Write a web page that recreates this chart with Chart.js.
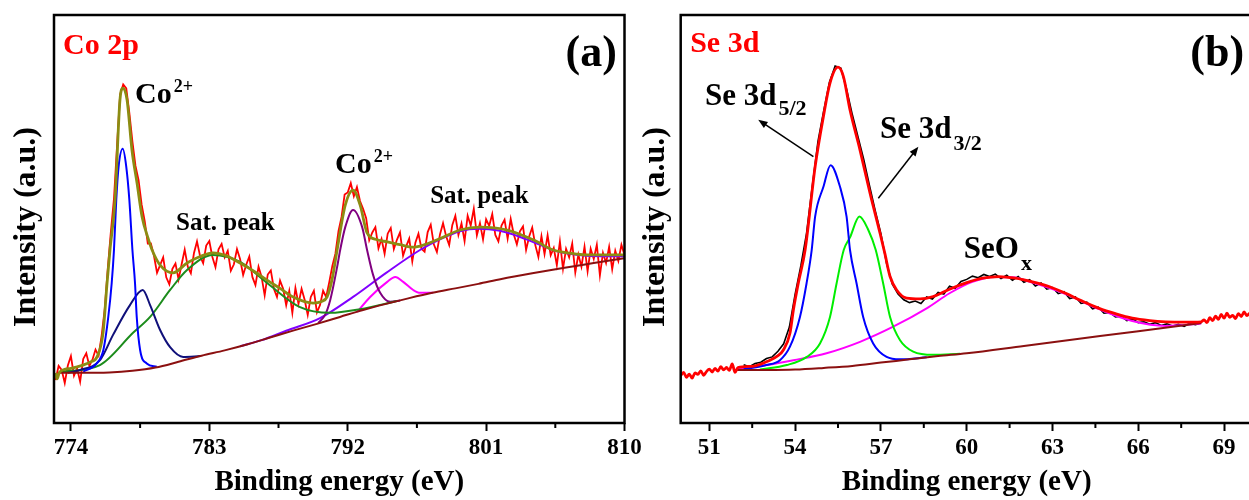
<!DOCTYPE html>
<html>
<head>
<meta charset="utf-8">
<script src="https://cdn.jsdelivr.net/npm/chart.js@4.4.1/dist/chart.umd.min.js"></script>
<style>
  html, body { margin: 0; padding: 0; background: #fff; overflow: hidden; width: 1249px; height: 500px; }
  canvas { position: absolute; top: 0; }
  #co { left: 0; }
  #se { left: 630px; }
</style>
</head>
<body>
<canvas id="co" width="660" height="500"></canvas>
<canvas id="se" width="640" height="500"></canvas>
<script>
const SERIF = '"Liberation Serif", "Times New Roman", serif';

// ---- (a) Co 2p ----
const coTicks = [774, 783, 792, 801, 810];
const coMinor = [778.5, 787.5, 796.5, 805.5];

// raw spectrum, 0.2 eV steps from 773.0 eV
const coRawStart = 773.0;
const coRawStep = 0.2;
const coRaw = [
  10.5, 14, 13, 9.8, 14.1, 16.4, 11.6, 13.4, 10.1, 15.7,
  17.1, 14, 15.5, 18, 16.5, 21.5, 28, 38, 47, 55,
  68, 80.5, 83, 82, 76, 69, 63, 59.5, 53.5, 49.5,
  44, 44, 41, 36.8, 38.7, 40.6, 35.7, 34, 37.8, 39.1,
  35.2, 38.9, 42.5, 38.3, 36.7, 41.6, 44.5, 40.9, 39.2, 43.5,
  44.6, 40.7, 38.2, 42.6, 43.9, 40.6, 42.2, 37.3, 38.9, 42.6,
  40.2, 36.3, 38.8, 40.8, 35.8, 33.8, 38.3, 35.8, 31.3, 36.4,
  37.4, 32.9, 30.9, 34.9, 32.9, 28.9, 32.4, 27.0, 33.1, 29.2,
  32.9, 30.2, 26.5, 30.9, 32.4, 27.1, 28.9, 32.4, 30.9, 34.5,
  38.5, 41.5, 47, 50.5, 56, 56.5, 58.8, 55.6, 57.8, 54.4,
  52.5, 50.2, 44.8, 46.7, 48, 42.8, 45.1, 41.5, 46.4, 47.8,
  42.6, 44.9, 46.7, 41, 43.3, 45.2, 39.6, 44.2, 46.4, 42.7,
  42, 46.8, 48.6, 43.8, 41.9, 46.2, 49, 45.8, 43.6, 48.5,
  50.8, 46.1, 48.9, 44.6, 50.8, 48.4, 52.5, 46, 49, 45,
  49.9, 48.3, 51.2, 46.1, 44.5, 48.4, 49.8, 45.2, 50, 46.2,
  43.8, 47, 48.2, 42.4, 45.7, 47.9, 43.6, 40.7, 45.8, 41.4,
  46, 41.1, 42.9, 38.7, 44.5, 37.8, 42.7, 40.6, 44, 36.9,
  41.3, 38.3, 43.2, 37.2, 42.7, 40.2, 43.7, 36.2, 41.7, 39.2,
  43.2, 37.7, 42.2, 39.7, 43.7, 41.2
];

const coFitE = [773.0, 773.1, 773.25, 774.0, 774.79, 775.3, 775.7, 776.09, 776.35, 776.54,
  776.87, 777.19, 777.39, 777.65, 777.97, 778.3, 778.63, 779.0, 779.3, 779.8,
  780.64, 781.55, 782.4, 783.24, 784.1, 785.0, 785.9, 786.76, 787.6, 788.45,
  789.75, 790.3, 790.66, 791.0, 791.31, 791.84, 792.35, 792.81, 793.26, 793.92,
  794.57, 795.4, 796.26, 797.0, 797.82, 799.31, 800.62, 802.37, 804.06, 805.37,
  806.5, 807.58, 809.73, 810.0];
const coFitI = [12.3, 10.8, 12.4, 13.4, 14.2, 15.0, 16.2, 22.1, 34.3, 42.4,
  54.7, 79.2, 82.1, 79.2, 66.9, 58.8, 50.5, 45.5, 42.2, 38.7,
  36.8, 39.2, 40.8, 41.7, 41.0, 39.2, 37.2, 35.0, 33.0, 30.9,
  29.4, 29.8, 30.9, 35.5, 42.4, 53.4, 57.1, 53.4, 46.6, 44.9,
  44.4, 43.7, 43.1, 43.7, 44.9, 47.3, 48.0, 47.3, 44.9, 42.4,
  41.6, 41.2, 41.2, 41.2];

const coBgE = [773.2, 774.5, 776.5, 778.0, 779.5, 781.0, 782.5, 784.0, 785.5, 787.0, 788.5, 790.0,
  791.5, 793.0, 794.5, 796.0, 797.5, 799.0, 800.5, 802.0, 804.0, 806.0, 808.0, 810.0];
const coBgI = [12.3, 12.3, 12.4, 12.8, 13.6, 15.0, 16.5, 17.8, 19.3, 21.0, 22.7, 24.3,
  26.0, 27.7, 29.2, 30.6, 31.9, 33.0, 34.1, 35.3, 36.7, 38.0, 39.2, 40.4];

// Co2+ 2p3/2 main (blue)
const coMainE = [774.8, 775.68, 776.11, 776.43, 776.65, 776.8, 776.95, 777.1, 777.37, 777.6, 777.8, 778.0, 778.17, 778.28, 778.5, 778.93, 779.58];
const coMainI = [12.6, 14.6, 17.9, 26.0, 34.2, 42.4, 54.7, 62.8, 67.2, 62.8, 54.7, 42.4, 34.2, 26.0, 17.9, 14.6, 13.8];
// second 2p3/2 component (navy)
const coShoulderE = [773.8, 774.59, 775.89, 776.74, 777.84, 778.67, 779.15, 779.8, 780.45, 781.3, 782.4];
const coShoulderI = [12.3, 13.0, 15.4, 21.6, 28.9, 32.6, 28.9, 22.8, 18.6, 16.2, 16.4];
// satellite 1 (green)
const coSat1E = [773.3, 775.89, 778.04, 779.15, 780.45, 781.55, 783.24, 785.0, 786.76, 788.9, 790.86, 792.8, 795.2];
const coSat1I = [12.5, 14.2, 22.1, 26.0, 32.6, 37.5, 41.2, 39.5, 34.3, 28.4, 27.0, 27.9, 29.9];
// Co2+ 2p1/2 main (purple)
const coMain2E = [790.08, 790.53, 790.86, 791.31, 791.51, 791.84, 792.35, 792.94, 793.26, 793.65, 794.11, 794.76, 795.41];
const coMain2I = [24.5, 26.5, 30.1, 38.2, 42.4, 48.0, 52.2, 48.0, 42.4, 36.3, 31.9, 29.7, 30.0];
// second 2p1/2 component (magenta)
const coShoulder2E = [792.61, 793.46, 794.57, 795.09, 795.61, 796.26, 796.71, 797.56];
const coShoulder2I = [27.2, 30.9, 34.6, 35.8, 34.6, 32.6, 31.9, 31.9];
// satellite 2 (violet)
const coSat2E = [785.0, 786.4, 788.0, 790.2, 792.35, 794.5, 796.7, 798.1, 799.3, 800.5, 801.8, 803.0, 804.3, 805.5, 807.0, 808.5, 810.0];
const coSat2I = [18.8, 20.3, 22.6, 25.7, 30.9, 36.8, 42.4, 45.2, 47.0, 47.6, 47.2, 45.9, 44.0, 42.2, 41.2, 40.9, 40.9];

// ---- (b) Se 3d ----
const seTicks = [51, 54, 57, 60, 63, 66, 69];
const seMinor = [52.5, 55.5, 58.5, 61.5, 64.5, 67.5];

// raw spectrum, 0.2 eV steps from 52.2 eV
const seRawStart = 52.2;
const seRawStep = 0.2;
const seRaw = [
  14.3, 13.8, 14.6, 14.9, 15.8, 16.2, 17.6, 19.4, 23.5, 31.5,
  38.5, 46.5, 58, 69, 76.5, 83.5, 87.5, 87.0, 81.8, 75.6,
  70.1, 64.6, 58.2, 52.1, 46.4, 39.1, 34.0, 31.6, 30.2, 29.5,
  29.9, 29.3, 30.9, 30.4, 32.0, 31.6, 33.5, 33.0, 34.7, 35.2,
  36.0, 35.6, 36.4, 35.9, 36.5, 35.4, 36.2, 35.0, 35.9, 34.5,
  35.1, 33.6, 34.3, 32.8, 33.2, 31.7, 32.2, 30.5, 30.9, 29.3,
  29.6, 28.0, 28.4, 26.9, 27.1, 26.0, 26.2, 25.1, 25.5, 24.6,
  24.8, 24.2, 24.6, 23.9, 24.3, 23.8, 24.2, 23.7, 24.4, 24.1,
  24.6
];

const seFitE = [50.0, 50.1, 50.2, 50.3, 50.4, 50.5, 50.6, 50.7, 50.8, 50.9, 51.0, 51.1, 51.2, 51.3, 51.4, 51.5, 51.6, 51.7, 51.8, 51.9, 52.0,
  52.5, 53.12, 53.4, 53.59, 53.82, 53.94, 54.11, 54.35, 54.7, 54.99, 55.22, 55.5, 55.69, 55.92, 56.27, 56.62, 56.97, 57.14, 57.32, 57.55,
  57.9, 58.37, 58.83, 59.4, 60.0, 60.55, 61.13, 61.7, 62.3, 62.9, 63.46, 64.0, 64.63, 65.2, 65.79, 66.4, 66.96, 67.6, 68.2,
  68.3, 68.4, 68.5, 68.6, 68.7, 68.8, 68.9, 69.0, 69.1, 69.2, 69.3, 69.4, 69.5, 69.6, 69.7, 69.8, 69.9, 70.0];
const seFitI = [11.6, 12.4, 11.2, 12.0, 11.0, 12.3, 11.9, 12.8, 11.7, 12.6, 13.2, 12.5, 13.4, 12.7, 13.8, 13.0, 13.6, 12.9, 14.5, 12.4, 13.6,
  13.9, 15.4, 16.5, 17.9, 22.0, 27.7, 34.2, 42.4, 62.8, 75.1, 83.3, 87.2, 84.9, 76.7, 66.9, 56.3, 46.5, 41.5, 35.9, 32.6,
  30.6, 30.4, 31.0, 32.8, 34.4, 35.5, 35.9, 35.5, 34.6, 33.4, 31.8, 30.0, 28.1, 26.8, 25.7, 25.1, 24.8, 24.7, 24.8,
  25.3, 24.6, 25.8, 25.1, 26.2, 25.4, 26.6, 25.7, 26.9, 25.9, 26.4, 25.6, 26.8, 26.1, 27.2, 26.3, 26.9, 26.5];

const seBgE = [51.96, 53.0, 54.0, 55.0, 56.0, 57.0, 58.0, 59.0, 60.0, 62.0, 64.0, 66.0, 68.2];
const seBgI = [13.0, 13.0, 13.1, 13.5, 14.0, 14.8, 15.6, 16.4, 17.1, 18.9, 20.7, 22.5, 24.5];

const se52E = [52.2, 53.0, 53.47, 53.82, 54.17, 54.4, 54.58, 54.7, 54.99, 55.24, 55.57, 55.8, 55.92, 56.15, 56.38, 56.73, 57.2, 57.67, 58.6];
const se52I = [13.2, 14.2, 15.4, 18.7, 26.0, 34.2, 42.4, 50.6, 57.9, 63.2, 57.9, 50.6, 42.4, 34.2, 26.0, 19.5, 16.2, 15.6, 16.1];

const se32E = [52.77, 53.71, 54.41, 54.87, 55.22, 55.45, 55.7, 55.92, 56.25, 56.56, 56.82, 57.08, 57.32, 57.67, 58.13, 58.83, 59.77];
const se32I = [13.1, 14.2, 16.2, 19.5, 26.0, 34.2, 42.4, 45.5, 50.6, 47.3, 42.4, 34.2, 26.0, 20.3, 17.5, 16.7, 17.0];

const seOxE = [51.98, 53.0, 53.94, 55.1, 56.27, 57.43, 58.6, 59.4, 60.2, 61.0, 61.6, 62.3, 63.46, 64.63, 65.79, 66.96, 68.2];
const seOxI = [13.2, 14.2, 15.4, 17.1, 19.9, 23.6, 28.1, 31.8, 34.6, 35.8, 35.7, 34.4, 31.6, 27.9, 25.0, 23.8, 24.4];

// text labels, placed in data units
const coNotes = [
  { text: 'Co 2p', x: 773.49, y: 90.4, size: 30, color: '#ff0000' },
  { text: '(a)', x: 809.5, y: 87.5, size: 44, align: 'right' },
  { text: 'Co', sup: '2+', x: 778.17, y: 78.4, size: 30, small: 18, shift: 11 },
  { text: 'Co', sup: '2+', x: 791.18, y: 61.3, size: 30, small: 18, shift: 11 },
  { text: 'Sat. peak', x: 780.84, y: 47.3, size: 25 },
  { text: 'Sat. peak', x: 797.36, y: 53.9, size: 25 }
];
const seNotes = [
  { text: 'Se 3d', x: 50.33, y: 90.9, size: 30, color: '#ff0000' },
  { text: '(b)', x: 69.7, y: 87.5, size: 44, align: 'right' },
  { text: 'Se 3d', sub: '5/2', x: 50.85, y: 77.9, size: 31, small: 22, shift: 10 },
  { text: 'Se 3d', sub: '3/2', x: 56.97, y: 69.9, size: 31, small: 22, shift: 12 },
  { text: 'SeO', sub: 'x', x: 59.9, y: 40.4, size: 31, small: 22, shift: 12 }
];
const seArrows = [
  { from: [54.64, 65.3], to: [52.71, 74.3] },
  { from: [56.91, 55.1], to: [58.31, 67.7] }
];

function pts(es, is) {
  return es.map((e, i) => ({ x: e, y: is[i] }));
}
function stepPts(start, step, vals) {
  return vals.map((v, i) => ({ x: +(start + step * i).toFixed(2), y: v }));
}
function line(data, color, width, order, smooth) {
  return {
    data: data,
    borderColor: color,
    backgroundColor: color,
    borderWidth: width,
    pointRadius: 0,
    fill: false,
    order: order,
    tension: 0,
    cubicInterpolationMode: smooth ? 'monotone' : 'default'
  };
}

function framePlugin(minor) {
  return {
    id: 'frame',
    afterDraw(chart) {
      const { ctx, chartArea: a, scales: { x } } = chart;
      ctx.save();
      ctx.strokeStyle = '#000';
      ctx.lineWidth = 2;
      ctx.beginPath();
      minor.forEach(v => {
        const px = x.getPixelForValue(v);
        ctx.moveTo(px, a.bottom);
        ctx.lineTo(px, a.bottom + 5);
      });
      ctx.stroke();
      ctx.lineWidth = 2.5;
      ctx.strokeRect(a.left, a.top, a.right - a.left, a.bottom - a.top);
      ctx.restore();
    }
  };
}

function notesPlugin(notes, arrows) {
  return {
    id: 'notes',
    afterDatasetsDraw(chart) {
      const { ctx, scales: { x, y } } = chart;
      ctx.save();
      ctx.strokeStyle = '#000';
      ctx.fillStyle = '#000';
      ctx.lineWidth = 1.5;
      arrows.forEach(a => {
        const x1 = x.getPixelForValue(a.from[0]), y1 = y.getPixelForValue(a.from[1]);
        const x2 = x.getPixelForValue(a.to[0]), y2 = y.getPixelForValue(a.to[1]);
        const ang = Math.atan2(y2 - y1, x2 - x1);
        ctx.beginPath();
        ctx.moveTo(x1, y1);
        ctx.lineTo(x2 - 6 * Math.cos(ang), y2 - 6 * Math.sin(ang));
        ctx.stroke();
        ctx.beginPath();
        ctx.moveTo(x2, y2);
        ctx.lineTo(x2 - 10 * Math.cos(ang - 0.38), y2 - 10 * Math.sin(ang - 0.38));
        ctx.lineTo(x2 - 10 * Math.cos(ang + 0.38), y2 - 10 * Math.sin(ang + 0.38));
        ctx.closePath();
        ctx.fill();
      });
      ctx.textBaseline = 'alphabetic';
      ctx.textAlign = 'left';
      notes.forEach(n => {
        ctx.font = 'bold ' + n.size + 'px ' + SERIF;
        ctx.fillStyle = n.color || '#000';
        let px = x.getPixelForValue(n.x);
        const py = y.getPixelForValue(n.y);
        const w = ctx.measureText(n.text).width;
        if (n.align === 'right') px -= w;
        ctx.fillText(n.text, px, py);
        if (n.sup) {
          ctx.font = 'bold ' + n.small + 'px ' + SERIF;
          ctx.fillText(n.sup, px + w + 2, py - n.shift);
        }
        if (n.sub) {
          ctx.font = 'bold ' + n.small + 'px ' + SERIF;
          ctx.fillText(n.sub, px + w + 2, py + n.shift);
        }
      });
      ctx.restore();
    }
  };
}

function axes(ticks, min, max, yWidth, titlePad) {
  return {
    x: {
      type: 'linear',
      min: min,
      max: max,
      afterBuildTicks: s => { s.ticks = ticks.map(v => ({ value: v })); },
      afterFit: s => { s.height = 77; },
      grid: { drawOnChartArea: false, drawTicks: true, tickLength: 8, tickWidth: 2, tickColor: '#000' },
      border: { display: false },
      ticks: {
        color: '#000',
        padding: 3,
        maxRotation: 0,
        autoSkip: false,
        font: { size: 23, weight: 'bold', family: SERIF }
      },
      title: {
        display: true,
        text: 'Binding energy (eV)',
        color: '#000',
        font: { size: 29, weight: 'bold', family: SERIF },
        padding: { top: 0, bottom: 0 }
      }
    },
    y: {
      min: 0,
      max: 100,
      afterFit: s => { s.width = yWidth; },
      grid: { display: false },
      border: { display: false },
      ticks: { display: false },
      title: {
        display: true,
        text: 'Intensity (a.u.)  ',
        color: '#000',
        font: { size: 32, weight: 'bold', family: SERIF },
        padding: { top: titlePad, bottom: 0 }
      }
    }
  };
}

function baseOptions(scales, padRight) {
  return {
    responsive: false,
    animation: false,
    events: [],
    layout: { padding: { left: 0, top: 15, right: padRight, bottom: 0 } },
    plugins: { legend: { display: false }, tooltip: { enabled: false } },
    scales: scales
  };
}

Chart.defaults.font.family = SERIF;

new Chart(document.getElementById('co').getContext('2d'), {
  type: 'line',
  data: {
    datasets: [
      line(pts(coFitE, coFitI), '#8c8c12', 2.8, 0, true),
      line(pts(coBgE, coBgI), '#8b1010', 2, 1, true),
      line(pts(coMainE, coMainI), '#0000ff', 2, 2, true),
      line(pts(coShoulderE, coShoulderI), '#10107a', 2, 3, true),
      line(pts(coSat1E, coSat1I), '#1c8c1c', 2, 4, true),
      line(pts(coMain2E, coMain2I), '#800080', 2, 5, true),
      line(pts(coShoulder2E, coShoulder2I), '#ff00ff', 2, 6, true),
      line(pts(coSat2E, coSat2I), '#8000ff', 2, 7, true),
      line(stepPts(coRawStart, coRawStep, coRaw), '#ff0000', 1.8, 10, false)
    ]
  },
  options: baseOptions(axes(coTicks, 772.9, 810, 54, 7.8), 35.5),
  plugins: [framePlugin(coMinor), notesPlugin(coNotes, [])]
});

new Chart(document.getElementById('se').getContext('2d'), {
  type: 'line',
  data: {
    datasets: [
      line(pts(seFitE, seFitI), '#ff0000', 2.8, 0, true),
      line(pts(seBgE, seBgI), '#8b1010', 2, 1, true),
      line(pts(se52E, se52I), '#0000ff', 2, 2, true),
      line(pts(se32E, se32I), '#00ee00', 2, 3, true),
      line(pts(seOxE, seOxI), '#ff00ff', 2, 4, true),
      line(stepPts(seRawStart, seRawStep, seRaw), '#000000', 1.6, 5, false)
    ]
  },
  options: baseOptions(axes(seTicks, 50, 70, 50.7, 6.8), 17.3),
  plugins: [framePlugin(seMinor), notesPlugin(seNotes, seArrows)]
});
</script>
</body>
</html>
